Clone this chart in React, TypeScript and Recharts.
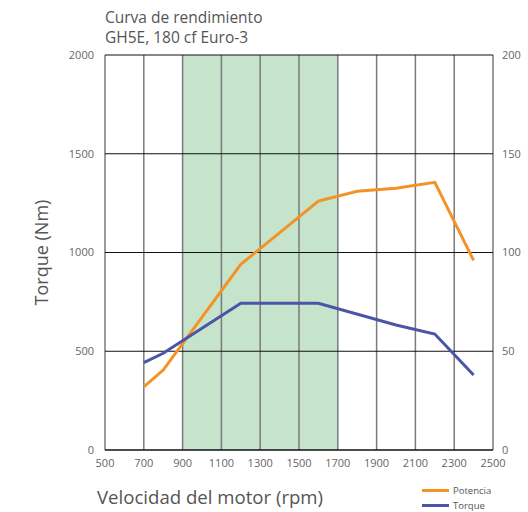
import { ComposedChart, Line, XAxis, YAxis, ReferenceArea, ReferenceLine } from 'recharts';

const rpmTicks = [500, 700, 900, 1100, 1300, 1500, 1700, 1900, 2100, 2300, 2500];
const torqueTicks = [0, 500, 1000, 1500, 2000];
const powerTicks = [0, 50, 100, 150, 200];

const potenciaRpm = [700, 800, 1200, 1600, 1800, 2000, 2200, 2400];
const potenciaKw = [32, 40.5, 94, 126, 131, 132.5, 135.5, 96];

const torqueRpm = [700, 800, 1200, 1600, 2000, 2200, 2400];
const torqueNm = [442, 490, 743, 743, 633, 587, 380];

const bandFrom = 900;
const bandTo = 1700;

const potenciaData = potenciaRpm.map((rpm, i) => ({ rpm, potencia: potenciaKw[i] }));
const torqueData = torqueRpm.map((rpm, i) => ({ rpm, torque: torqueNm[i] }));

const FONT = '"Open Sans", "Noto Sans", sans-serif';
const ORANGE = '#f39325';
const BLUE = '#4b55a6';

const legendItems = [
  { label: 'Potencia', color: ORANGE },
  { label: 'Torque', color: BLUE },
];

export default function App() {
  const tick = { fill: '#666', fontSize: 11, fontFamily: FONT };
  return (
    <div style={{ position: 'absolute', left: 0, top: 0, width: 528, height: 512, background: '#fff', overflow: 'hidden' }}>
      <div style={{ position: 'absolute', left: 105, top: 7, fontFamily: FONT, fontSize: 15.5, lineHeight: '20px', color: '#555' }}>
        Curva de rendimiento<br />GH5E, 180 cf Euro-3
      </div>
      <ComposedChart width={528} height={512} margin={{ top: 55, right: 0, bottom: 0, left: 0 }}>
        <ReferenceArea x1={bandFrom} x2={bandTo} y1={0} y2={2000} yAxisId="left" fill="#c6e3cc" fillOpacity={1} stroke="none" ifOverflow="hidden" />
        {rpmTicks.map(r => (
          <ReferenceLine key={r} x={r} yAxisId="left" stroke="#7a7a7a" strokeWidth={1.5} />
        ))}
        {torqueTicks.slice(1).map(t => (
          <ReferenceLine key={t} y={t} yAxisId="left" stroke="#111" strokeWidth={1.2} />
        ))}
        <XAxis
          type="number"
          dataKey="rpm"
          domain={[500, 2500]}
          ticks={rpmTicks}
          height={62}
          tickSize={0}
          tickMargin={9}
          tick={tick}
          tickLine={false}
          axisLine={{ stroke: '#111', strokeWidth: 1.5 }}
          allowDuplicatedCategory={false}
        />
        <YAxis
          yAxisId="left"
          domain={[0, 2000]}
          ticks={torqueTicks}
          width={105}
          tickSize={0}
          tickMargin={11}
          tick={tick}
          tickLine={false}
          axisLine={false}
          label={{ value: 'Torque (Nm)', angle: -90, position: 'insideLeft', offset: 42, style: { fill: '#555', fontSize: 18, fontFamily: FONT, textAnchor: 'middle' } }}
        />
        <YAxis
          yAxisId="right"
          orientation="right"
          domain={[0, 200]}
          ticks={powerTicks}
          width={35}
          tickSize={0}
          tickMargin={9}
          tick={tick}
          tickLine={false}
          axisLine={false}
        />
        <Line data={potenciaData} yAxisId="right" dataKey="potencia" name="Potencia" stroke={ORANGE} strokeWidth={3} dot={false} isAnimationActive={false} />
        <Line data={torqueData} yAxisId="left" dataKey="torque" name="Torque" stroke={BLUE} strokeWidth={3} dot={false} isAnimationActive={false} />
      </ComposedChart>
      <div style={{ position: 'absolute', left: 97, top: 484, fontFamily: FONT, fontSize: 18.6, color: '#555', whiteSpace: 'nowrap' }}>
        Velocidad del motor (rpm)
      </div>
      <div style={{ position: 'absolute', left: 422, top: 483, fontFamily: FONT, fontSize: 9.5, color: '#555' }}>
        {legendItems.map(it => (
          <div key={it.label} style={{ display: 'flex', alignItems: 'center', height: 15 }}>
            <span style={{ display: 'inline-block', width: 27, height: 3, background: it.color, marginRight: 4 }} />
            {it.label}
          </div>
        ))}
      </div>
    </div>
  );
}
